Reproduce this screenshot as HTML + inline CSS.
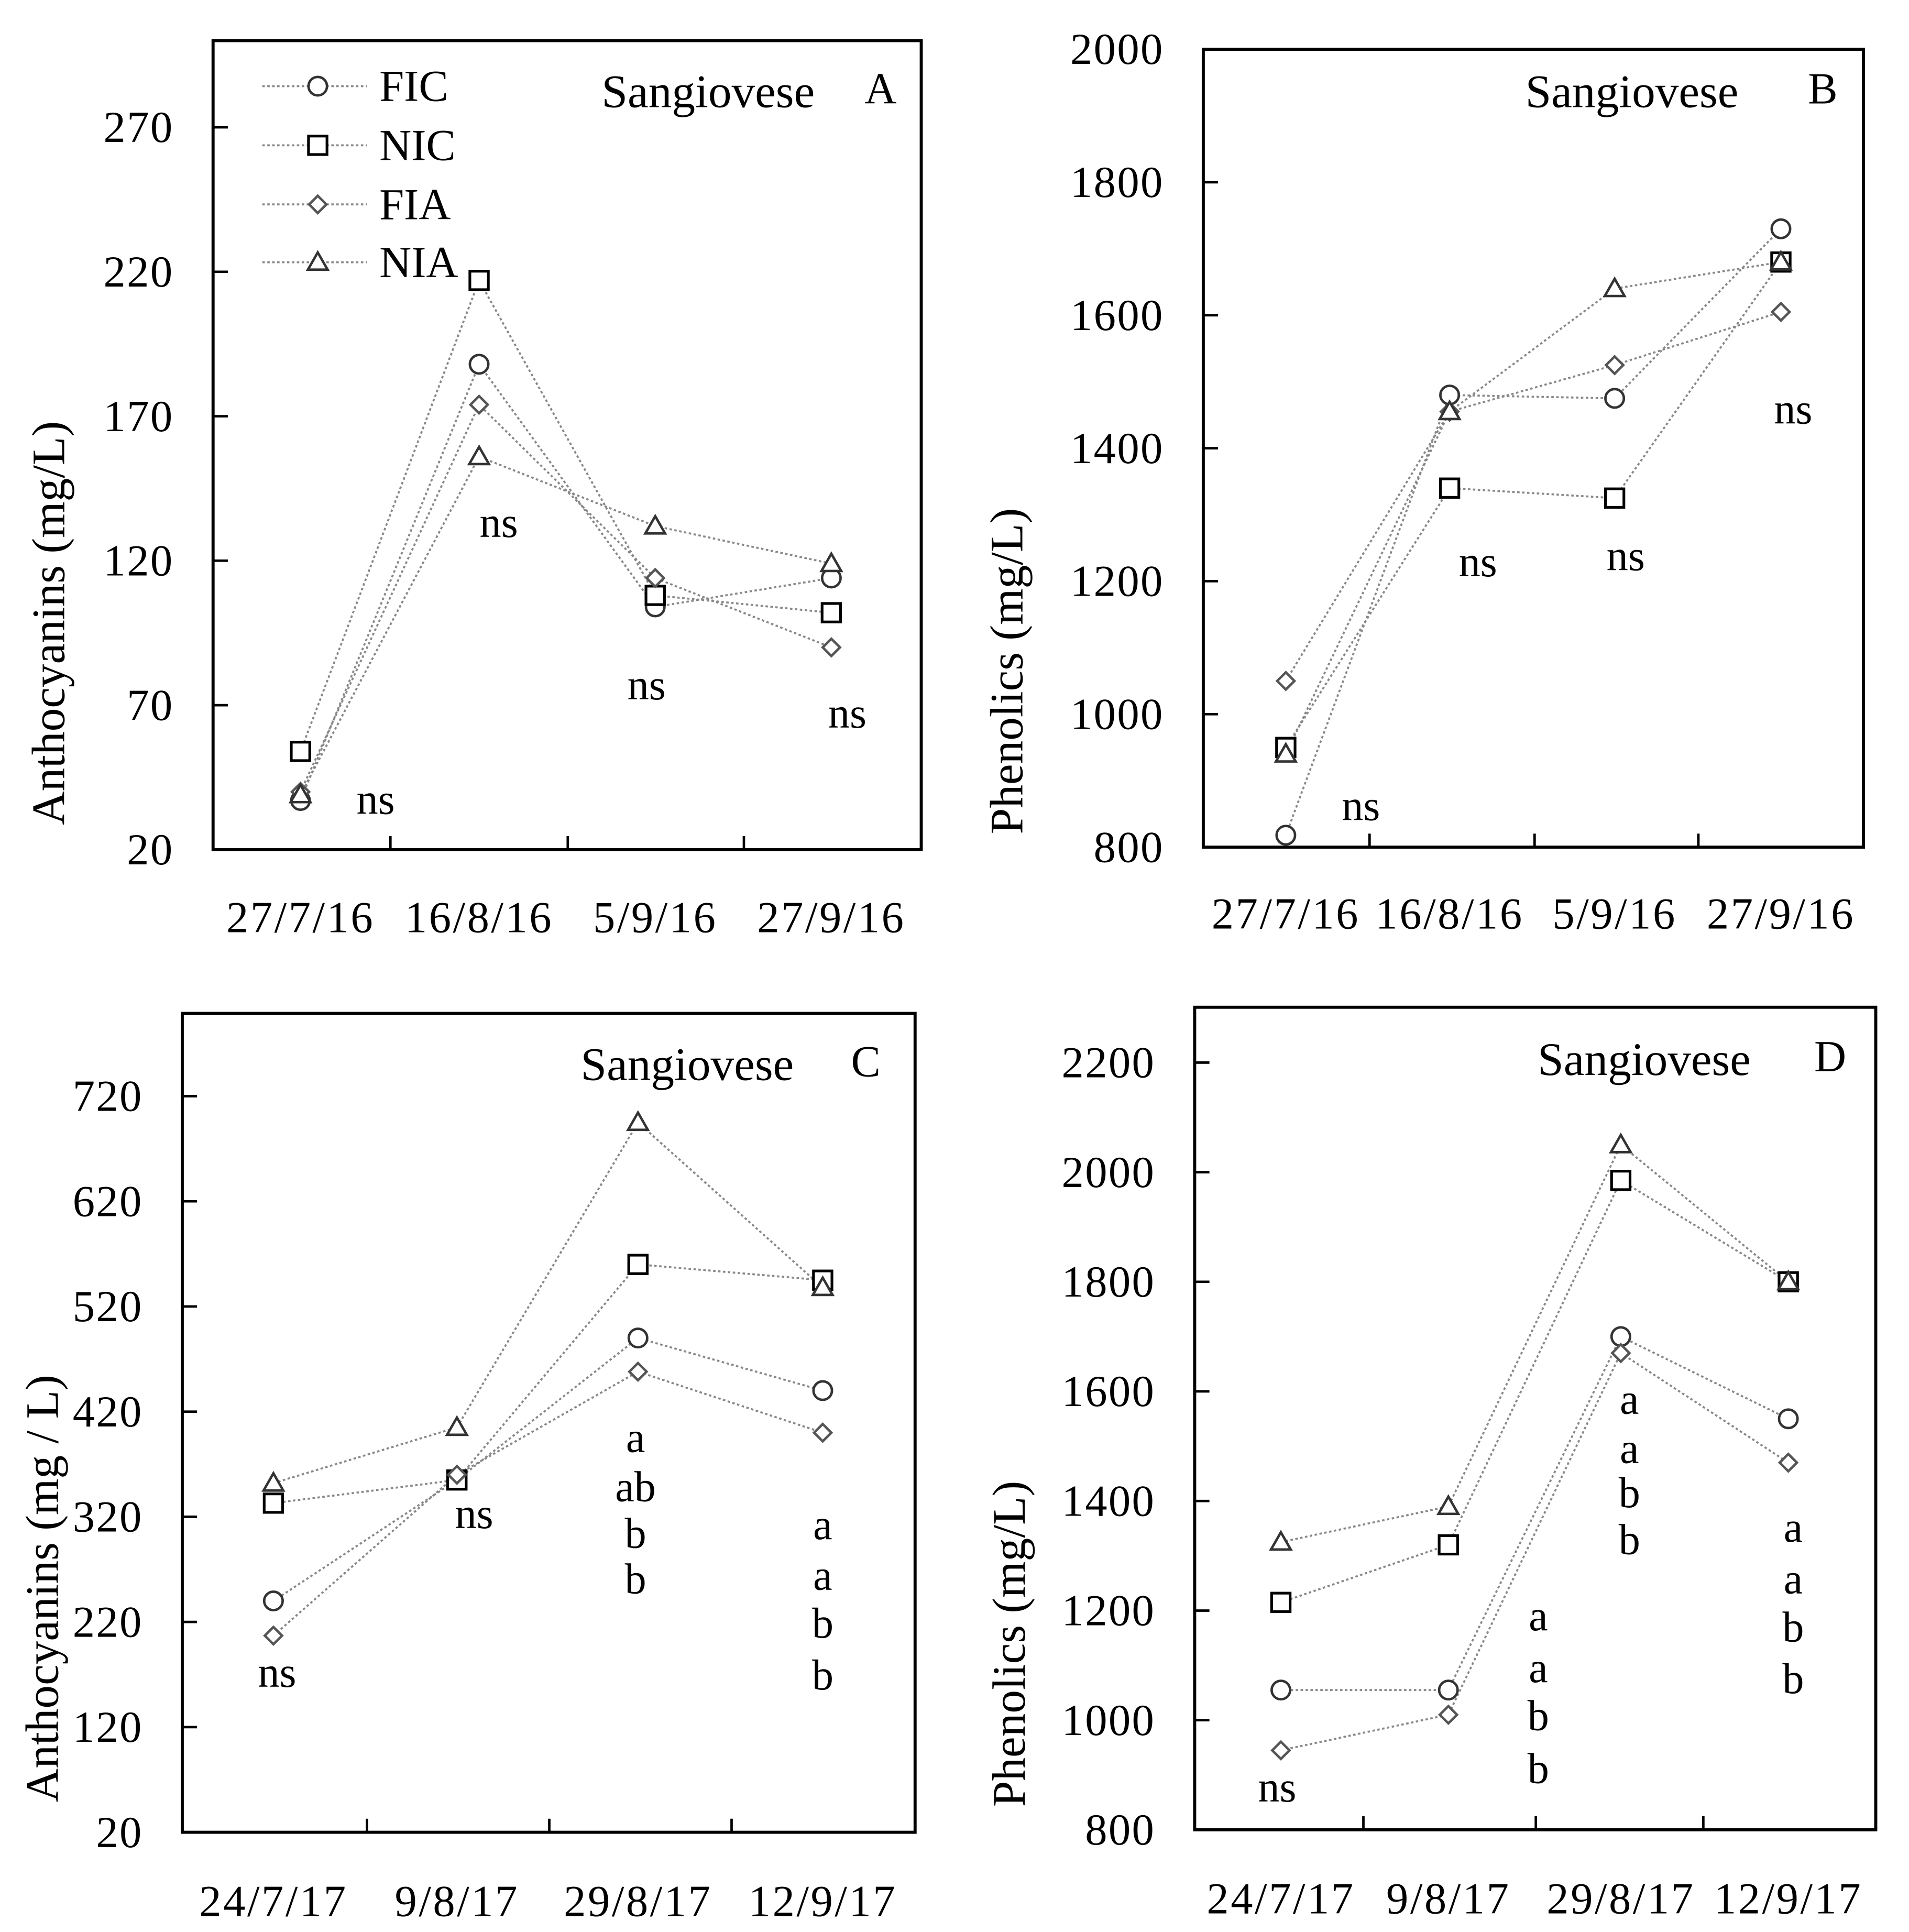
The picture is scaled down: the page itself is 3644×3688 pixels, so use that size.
<!DOCTYPE html>
<html><head><meta charset="utf-8">
<style>
html,body{margin:0;padding:0;background:#fff}
svg{display:block}
text{font-family:"Liberation Serif",serif;fill:#000}
</style></head>
<body>
<svg id="fig" width="3644" height="3688" viewBox="0 0 1550 1569" preserveAspectRatio="none" xmlns="http://www.w3.org/2000/svg"></svg>
<script>
// ---------- data ----------
const seriesNames = ["FIC","NIC","FIA","NIA"];
const catsA = ["27/7/16","16/8/16","5/9/16","27/9/16"];
const A_FIC = [37,188,104,114];
const A_NIC = [54,217,108,102];
const A_FIA = [40,174,114,90];
const A_NIA = [39,156,132,119];
const ticksA = [20,70,120,170,220,270];

const catsB = ["27/7/16","16/8/16","5/9/16","27/9/16"];
const B_FIC = [818,1480,1475,1730];
const B_NIC = [950,1340,1325,1680];
const B_FIA = [1050,1455,1525,1605];
const B_NIA = [940,1455,1640,1680];
const ticksB = [800,1000,1200,1400,1600,1800,2000];

const catsC = ["24/7/17","9/8/17","29/8/17","12/9/17"];
const C_FIC = [240,355,490,440];
const C_NIC = [333,355,560,545];
const C_FIA = [207,360,458,400];
const C_NIA = [352,405,695,538];
const ticksC = [20,120,220,320,420,520,620,720];

const catsD = ["24/7/17","9/8/17","29/8/17","12/9/17"];
const D_FIC = [1055,1055,1700,1550];
const D_NIC = [1215,1320,1985,1800];
const D_FIA = [945,1010,1670,1470];
const D_NIA = [1325,1390,2050,1800];
const ticksD = [800,1000,1200,1400,1600,1800,2000,2200];

// ---------- drawing ----------
const NS="http://www.w3.org/2000/svg";
const svg=document.getElementById('fig');
function mk(tag,attrs,parent){const e=document.createElementNS(NS,tag);for(const k in attrs)e.setAttribute(k,attrs[k]);(parent||svg).appendChild(e);return e;}
function txt(s,x,y,size,anchor,parent){const t=mk('text',{x:x,y:y,'font-size':size,'text-anchor':anchor||'middle'},parent);t.textContent=s;return t;}

function marker(type,x,y,g){
  let e;
  if(type==="FIC"){e=mk('circle',{cx:x,cy:y,r:7.5,fill:'#fff',stroke:'#333','stroke-width':2},g);}
  else if(type==="NIC"){e=mk('rect',{x:x-7.5,y:y-7.5,width:15,height:15,fill:'#fff',stroke:'#000','stroke-width':2.2},g);}
  else if(type==="FIA"){e=mk('polygon',{points:`${x},${y-7} ${x+7},${y} ${x},${y+7} ${x-7},${y}`,fill:'#fff',stroke:'#555','stroke-width':2},g);}
  else {e=mk('polygon',{points:`${x},${y-8} ${x+8},${y+6} ${x-8},${y+6}`,fill:'#fff',stroke:'#333','stroke-width':2},g);}
  return e;
}

function panel(cfg){
  const g=mk('g',{});
  
  
  const L=cfg.box[0],T=cfg.box[1],R=cfg.box[2],B=cfg.box[3];
  const yS=v=>B-(v-cfg.ymin)/(cfg.ymax-cfg.ymin)*(B-T);
  const xS=i=>cfg.cx[i];
  const ser=[cfg.s[0],cfg.s[1],cfg.s[2],cfg.s[3]];
  ser.forEach((vals,si)=>{
    const pts=vals.map((v,i)=>xS(i)+','+yS(v)).join(' ');
    const pl=mk('polyline',{points:pts,fill:'none',stroke:'#888','stroke-width':1.6,'stroke-dasharray':'2,2'},g);
    
    
  });
  ser.forEach((vals,si)=>{
    vals.forEach((v,i)=>{
      const m=marker(seriesNames[si],xS(i),yS(v),g);
      
      
    });
  });
  const bx=mk('rect',{x:L,y:T,width:R-L,height:B-T,fill:'none',stroke:'#000','stroke-width':2.5},g);
  
  
  cfg.ticks.forEach(v=>{
    const y=yS(v);
    if(v!==cfg.ymin) mk('line',{x1:L,x2:L+12,y1:y,y2:y,stroke:'#000','stroke-width':2},g);
    const t=txt(String(v),L-32,y+12,36,'end',g);
    t.setAttribute('letter-spacing','1');
    
    
  });
  cfg.xt.forEach(x=>mk('line',{x1:x,x2:x,y1:B,y2:B-11,stroke:'#000','stroke-width':2},g));
  cfg.cats.forEach((c,i)=>{
    const t=txt(c,xS(i),cfg.xly,36,'middle',g);
    t.setAttribute('letter-spacing','1.5');
    
    
  });
  const yt=mk('text',{x:0,y:0,'font-size':38,'text-anchor':'middle',transform:`translate(${cfg.ytx},${cfg.yty}) rotate(-90)`},g);
  yt.textContent=cfg.ytitle;
  
  
  const st=txt('Sangiovese',cfg.sx,cfg.sy,38,'middle',g);
  
  
  const pl=txt(cfg.id,cfg.lx,cfg.sy-3,36,'middle',g);
  
  
  cfg.ann.forEach(a=>{
    const t=txt(a[0],a[1],a[2]+11,35,'middle',g);
    
    
  });
  return g;
}

panel({id:'A',box:[173,33,748,690],ymin:20,ymax:300,cx:[244,389,532,675],xt:[317,461,604],
  s:[A_FIC,A_NIC,A_FIA,A_NIA],ticks:ticksA,cats:catsA,xly:757,ytitle:'Anthocyanins (mg/L)',ytx:52,yty:506,
  sx:575,sy:87,lx:715,ann:[['ns',305,650],['ns',405,425],['ns',525,557],['ns',688,580]]});
panel({id:'B',box:[977,40,1513,688],ymin:800,ymax:2000,cx:[1044,1177,1311,1446],xt:[1112,1246,1379],
  s:[B_FIC,B_NIC,B_FIA,B_NIA],ticks:ticksB,cats:catsB,xly:754,ytitle:'Phenolics (mg/L)',ytx:830,yty:545,
  sx:1325,sy:87,lx:1480,ann:[['ns',1105,655],['ns',1200,457],['ns',1320,452],['ns',1456,333]]});
panel({id:'C',box:[148,823,743,1488],ymin:20,ymax:798.7,cx:[222,371,518,668],xt:[298,446,594],
  s:[C_FIC,C_NIC,C_FIA,C_NIA],ticks:ticksC,cats:catsC,xly:1556,ytitle:'Anthocyanins (mg / L)',ytx:47,yty:1290,
  sx:558,sy:877,lx:703,ann:[['ns',225,1359],['ns',385,1230],['a',516,1168],['ab',516,1208],['b',516,1246],['b',516,1283],
  ['a',668,1239],['a',668,1280],['b',668,1319],['b',668,1361]]});
panel({id:'D',box:[970,818,1523,1486],ymin:800,ymax:2301,cx:[1040,1176,1316,1452],xt:[1107,1247,1383],
  s:[D_FIC,D_NIC,D_FIA,D_NIA],ticks:ticksD,cats:catsD,xly:1554,ytitle:'Phenolics (mg/L)',ytx:832,yty:1335,
  sx:1335,sy:873,lx:1486,ann:[['ns',1037,1452],['a',1249,1313],['a',1249,1355],['b',1249,1394],['b',1249,1437],
  ['a',1323,1137],['a',1323,1177],['b',1323,1213],['b',1323,1251],['a',1456,1241],['a',1456,1283],['b',1456,1322],['b',1456,1364]]});

const lg=mk('g',{});


const legY=[70,118,166,213];
seriesNames.forEach((n,i)=>{
  const e=mk('g',{},lg);
  
  
  mk('line',{x1:213,x2:298,y1:legY[i],y2:legY[i],stroke:'#888','stroke-width':1.6,'stroke-dasharray':'2,2'},e);
  marker(n,258,legY[i],e);
  txt(n,308,legY[i]+12,36,'start',e);
});
</script>
</body></html>
